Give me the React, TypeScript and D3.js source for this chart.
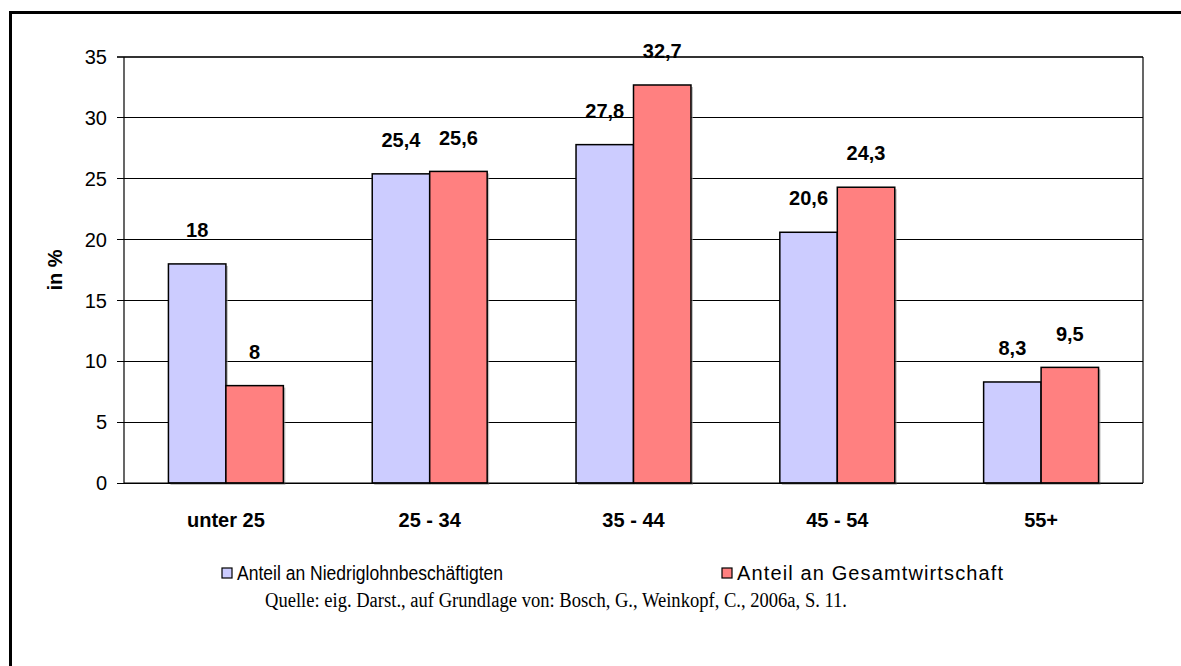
import React from "react";
import * as d3 from "d3";

const categories = ["unter 25", "25 - 34", "35 - 44", "45 - 54", "55+"];
const niedriglohn = [18, 25.4, 27.8, 20.6, 8.3];
const gesamt = [8, 25.6, 32.7, 24.3, 9.5];
const seriesNames = ["Anteil an Niedriglohnbeschäftigten", "Anteil an Gesamtwirtschaft"];
const yTicks = [0, 5, 10, 15, 20, 25, 30, 35];
const source = "Quelle: eig. Darst., auf Grundlage von: Bosch, G., Weinkopf, C., 2006a, S. 11.";

const colors = {
  BLUE: "#CCCCFF",
  RED: "#FF8080",
  SHADOW: "#9a9a9a",
};

const W = 1181;
const H = 666;
const plot = { left: 124, right: 1143, top: 57, bottom: 483 };
const sans = "'Liberation Sans', Arial, sans-serif";
const serif = "'Liberation Serif', 'Times New Roman', serif";

const fmt = (v: number) => String(v).replace(".", ",");

export default function App() {
  const x = d3
    .scaleBand<string>()
    .domain(categories)
    .range([plot.left, plot.right])
    .paddingInner(0.436)
    .paddingOuter(0.218);
  const inner = d3.scaleBand<number>().domain([0, 1]).range([0, x.bandwidth()]);
  const y = d3.scaleLinear().domain([0, 35]).range([plot.bottom, plot.top]);

  const series = [
    { values: niedriglohn, color: colors.BLUE },
    { values: gesamt, color: colors.RED },
  ];

  return (
    <svg width={W} height={H} style={{ position: "absolute", left: 0, top: 0, background: "#fff" }}>
      {/* outer frame, only top and left edges show */}
      <path d={`M10.5,${H} V12.5 H${W}`} fill="none" stroke="#000" strokeWidth={3} />

      {/* gridlines + y ticks */}
      {yTicks.map((t) => (
        <g key={t}>
          <line
            x1={plot.left - 7}
            x2={plot.right}
            y1={y(t)}
            y2={y(t)}
            stroke={t === 35 ? "#333" : "#000"}
            strokeWidth={t === 35 ? 1.5 : 1}
            shapeRendering="crispEdges"
          />
          <text x={107} y={y(t)} dy="0.36em" textAnchor="end" fontFamily={sans} fontSize={20} fill="#000">
            {t}
          </text>
        </g>
      ))}
      <line x1={plot.left} x2={plot.left} y1={plot.top} y2={plot.bottom} stroke="#000" strokeWidth={1.2} />
      <line x1={plot.right} x2={plot.right} y1={plot.top} y2={plot.bottom} stroke="#000" strokeWidth={1.2} />

      {/* bars */}
      {series.map((s, si) =>
        categories.map((c, i) => {
          const bx = (x(c) ?? 0) + (inner(si) ?? 0);
          const bw = inner.bandwidth();
          const by = y(s.values[i]);
          return (
            <g key={`${si}-${c}`}>
              <rect x={bx + 2} y={by + 2} width={bw} height={plot.bottom - by} fill={colors.SHADOW} opacity={0.6} />
              <rect x={bx} y={by} width={bw} height={plot.bottom - by} fill={s.color} stroke="#000" strokeWidth={1.5} />
            </g>
          );
        })
      )}
      <line x1={plot.left} x2={plot.right} y1={plot.bottom} y2={plot.bottom} stroke="#000" strokeWidth={1.2} />

      {/* value labels */}
      {series.map((s, si) =>
        categories.map((c, i) => {
          const cx = (x(c) ?? 0) + (inner(si) ?? 0) + inner.bandwidth() / 2;
          return (
            <text
              key={`l${si}-${c}`}
              x={cx}
              y={y(s.values[i]) - 34}
              dy="0.36em"
              textAnchor="middle"
              fontFamily={sans}
              fontWeight="bold"
              fontSize={20}
              fill="#000"
            >
              {fmt(s.values[i])}
            </text>
          );
        })
      )}

      {/* category labels */}
      {categories.map((c) => (
        <text
          key={c}
          x={(x(c) ?? 0) + x.bandwidth() / 2}
          y={520}
          dy="0.36em"
          textAnchor="middle"
          fontFamily={sans}
          fontWeight="bold"
          fontSize={20}
          fill="#000"
        >
          {c}
        </text>
      ))}

      {/* y axis title */}
      <text
        transform="translate(55,270) rotate(-90)"
        dy="0.36em"
        textAnchor="middle"
        fontFamily={sans}
        fontWeight="bold"
        fontSize={20}
        fill="#000"
      >
        in %
      </text>

      {/* legend */}
      {seriesNames.map((name, i) => {
        const lx = i === 0 ? 222 : 722;
        return (
          <g key={name}>
            <rect x={lx} y={568} width={10} height={10} fill={series[i].color} stroke="#000" strokeWidth={1.2} />
            <text
              x={lx + 15}
              y={573}
              dy="0.36em"
              fontFamily={sans}
              fontSize={20}
              textLength={266}
              lengthAdjust={i === 0 ? "spacingAndGlyphs" : "spacing"}
              fill="#000"
            >
              {name}
            </text>
          </g>
        );
      })}

      {/* source */}
      <text
        x={265}
        y={600}
        dy="0.36em"
        fontFamily={serif}
        fontSize={20}
        textLength={582}
        lengthAdjust="spacingAndGlyphs"
        fill="#000"
      >
        {source}
      </text>
    </svg>
  );
}
